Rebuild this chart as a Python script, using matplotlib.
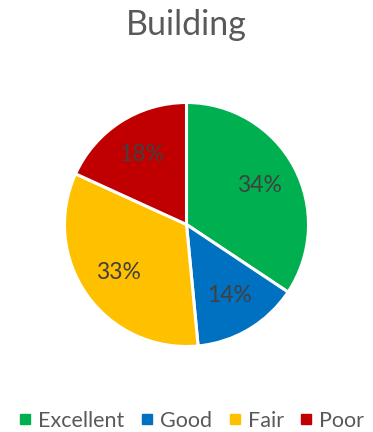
import matplotlib
matplotlib.use("Agg")
import matplotlib.pyplot as plt
from matplotlib.lines import Line2D

categories = ["Excellent", "Good", "Fair", "Poor"]
values = [34, 14, 33, 18]
colors = ["#00B050", "#0070C0", "#FFC000", "#C00000"]
title = "Building"

plt.rcParams['font.family'] = ['Lato', 'DejaVu Sans']

W, H = 373, 432
fig = plt.figure(figsize=(W/100, H/100), dpi=100)
cx, cy, r = 186.5, 224.5, 122
ax = fig.add_axes([(cx - r)/W, (H - cy - r)/H, 2*r/W, 2*r/H])
wedges, texts, autotexts = ax.pie(values, colors=colors, startangle=90, counterclock=False,
       autopct='%1.0f%%', pctdistance=0.68, radius=1,
       wedgeprops=dict(edgecolor='white', linewidth=2.2),
       textprops=dict(color='#404040', fontsize=16.5))
ax.set_xlim(-1, 1)
ax.set_ylim(-1, 1)
ax.axis('off')

fig.text(0.5, 1 - 25/H, title, ha='center', va='center', fontsize=24.5, color='#595959')

handles = [Line2D([0], [0], marker='s', linestyle='none', markersize=7,
                  markerfacecolor=c, markeredgecolor=c) for c in colors]
fig.legend(handles, categories, loc='center', bbox_to_anchor=(0.515, 1 - 421/H), ncol=4,
           frameon=False, fontsize=15.5, labelcolor='#595959', handlelength=0.5,
           handletextpad=0.35, columnspacing=0.8, borderaxespad=0)

fig.savefig("out.png", dpi=100)
